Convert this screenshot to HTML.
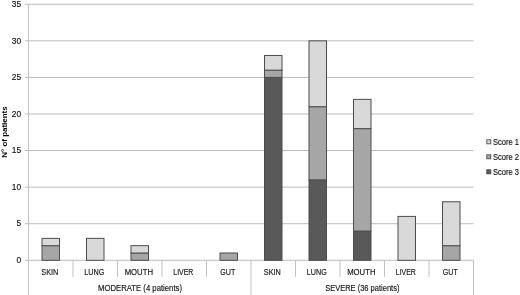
<!DOCTYPE html>
<html><head><meta charset="utf-8"><style>
html,body{margin:0;padding:0;background:#fff;width:520px;height:295px;overflow:hidden;position:relative;font-family:"Liberation Sans",sans-serif;}
</style></head><body>
<svg width="520" height="295" viewBox="0 0 520 295" style="position:absolute;left:0;top:0;filter:grayscale(1)">
<line x1="25" y1="260.3" x2="473.5" y2="260.3" stroke="#bcbcbc" stroke-width="1"/>
<line x1="25" y1="223.73" x2="473.5" y2="223.73" stroke="#bcbcbc" stroke-width="1"/>
<line x1="25" y1="187.15" x2="473.5" y2="187.15" stroke="#bcbcbc" stroke-width="1"/>
<line x1="25" y1="150.57" x2="473.5" y2="150.57" stroke="#bcbcbc" stroke-width="1"/>
<line x1="25" y1="114.0" x2="473.5" y2="114.0" stroke="#bcbcbc" stroke-width="1"/>
<line x1="25" y1="77.43" x2="473.5" y2="77.43" stroke="#bcbcbc" stroke-width="1"/>
<line x1="25" y1="40.85" x2="473.5" y2="40.85" stroke="#bcbcbc" stroke-width="1"/>
<line x1="25" y1="4.27" x2="473.5" y2="4.27" stroke="#bcbcbc" stroke-width="1"/>
<line x1="28.5" y1="4" x2="28.5" y2="295" stroke="#c2c2c2" stroke-width="1"/>
<line x1="73.0" y1="260" x2="73.0" y2="277" stroke="#c2c2c2" stroke-width="1"/>
<line x1="117.5" y1="260" x2="117.5" y2="277" stroke="#c2c2c2" stroke-width="1"/>
<line x1="162.0" y1="260" x2="162.0" y2="277" stroke="#c2c2c2" stroke-width="1"/>
<line x1="206.5" y1="260" x2="206.5" y2="277" stroke="#c2c2c2" stroke-width="1"/>
<line x1="251.0" y1="260" x2="251.0" y2="295" stroke="#c2c2c2" stroke-width="1"/>
<line x1="295.5" y1="260" x2="295.5" y2="277" stroke="#c2c2c2" stroke-width="1"/>
<line x1="340.0" y1="260" x2="340.0" y2="277" stroke="#c2c2c2" stroke-width="1"/>
<line x1="384.5" y1="260" x2="384.5" y2="277" stroke="#c2c2c2" stroke-width="1"/>
<line x1="429.0" y1="260" x2="429.0" y2="277" stroke="#c2c2c2" stroke-width="1"/>
<line x1="473.5" y1="260" x2="473.5" y2="295" stroke="#c2c2c2" stroke-width="1"/>
<rect x="42.00" y="245.67" width="17.5" height="14.63" fill="#a6a6a6" stroke="#4d4d4d" stroke-width="1"/>
<rect x="42.00" y="238.36" width="17.5" height="7.31" fill="#d9d9d9" stroke="#4d4d4d" stroke-width="1"/>
<rect x="86.50" y="238.36" width="17.5" height="21.94" fill="#d9d9d9" stroke="#4d4d4d" stroke-width="1"/>
<rect x="131.00" y="252.99" width="17.5" height="7.31" fill="#a6a6a6" stroke="#4d4d4d" stroke-width="1"/>
<rect x="131.00" y="245.67" width="17.5" height="7.31" fill="#d9d9d9" stroke="#4d4d4d" stroke-width="1"/>
<rect x="220.00" y="252.99" width="17.5" height="7.31" fill="#a6a6a6" stroke="#4d4d4d" stroke-width="1"/>
<rect x="264.50" y="77.43" width="17.5" height="182.88" fill="#595959" stroke="#4d4d4d" stroke-width="1"/>
<rect x="264.50" y="70.11" width="17.5" height="7.31" fill="#a6a6a6" stroke="#4d4d4d" stroke-width="1"/>
<rect x="264.50" y="55.48" width="17.5" height="14.63" fill="#d9d9d9" stroke="#4d4d4d" stroke-width="1"/>
<rect x="309.00" y="179.84" width="17.5" height="80.47" fill="#595959" stroke="#4d4d4d" stroke-width="1"/>
<rect x="309.00" y="106.69" width="17.5" height="73.15" fill="#a6a6a6" stroke="#4d4d4d" stroke-width="1"/>
<rect x="309.00" y="40.85" width="17.5" height="65.84" fill="#d9d9d9" stroke="#4d4d4d" stroke-width="1"/>
<rect x="353.50" y="231.04" width="17.5" height="29.26" fill="#595959" stroke="#4d4d4d" stroke-width="1"/>
<rect x="353.50" y="128.63" width="17.5" height="102.41" fill="#a6a6a6" stroke="#4d4d4d" stroke-width="1"/>
<rect x="353.50" y="99.37" width="17.5" height="29.26" fill="#d9d9d9" stroke="#4d4d4d" stroke-width="1"/>
<rect x="398.00" y="216.41" width="17.5" height="43.89" fill="#d9d9d9" stroke="#4d4d4d" stroke-width="1"/>
<rect x="442.50" y="245.67" width="17.5" height="14.63" fill="#a6a6a6" stroke="#4d4d4d" stroke-width="1"/>
<rect x="442.50" y="201.78" width="17.5" height="43.89" fill="#d9d9d9" stroke="#4d4d4d" stroke-width="1"/>
<text x="21.2" y="263.00" text-anchor="end" font-size="8.4" fill="#141414" stroke="#141414" stroke-width="0.15" font-family="Liberation Sans, sans-serif">0</text>
<text x="21.2" y="226.43" text-anchor="end" font-size="8.4" fill="#141414" stroke="#141414" stroke-width="0.15" font-family="Liberation Sans, sans-serif">5</text>
<text x="21.2" y="189.85" text-anchor="end" font-size="8.4" fill="#141414" stroke="#141414" stroke-width="0.15" font-family="Liberation Sans, sans-serif">10</text>
<text x="21.2" y="153.27" text-anchor="end" font-size="8.4" fill="#141414" stroke="#141414" stroke-width="0.15" font-family="Liberation Sans, sans-serif">15</text>
<text x="21.2" y="116.70" text-anchor="end" font-size="8.4" fill="#141414" stroke="#141414" stroke-width="0.15" font-family="Liberation Sans, sans-serif">20</text>
<text x="21.2" y="80.13" text-anchor="end" font-size="8.4" fill="#141414" stroke="#141414" stroke-width="0.15" font-family="Liberation Sans, sans-serif">25</text>
<text x="21.2" y="43.55" text-anchor="end" font-size="8.4" fill="#141414" stroke="#141414" stroke-width="0.15" font-family="Liberation Sans, sans-serif">30</text>
<text x="21.2" y="6.97" text-anchor="end" font-size="8.4" fill="#141414" stroke="#141414" stroke-width="0.15" font-family="Liberation Sans, sans-serif">35</text>
<text x="49.85" y="274.6" text-anchor="middle" font-size="8.4" fill="#141414" stroke="#141414" stroke-width="0.15" textLength="17.0" lengthAdjust="spacingAndGlyphs" font-family="Liberation Sans, sans-serif">SKIN</text>
<text x="94.35" y="274.6" text-anchor="middle" font-size="8.4" fill="#141414" stroke="#141414" stroke-width="0.15" textLength="20.0" lengthAdjust="spacingAndGlyphs" font-family="Liberation Sans, sans-serif">LUNG</text>
<text x="138.85" y="274.6" text-anchor="middle" font-size="8.4" fill="#141414" stroke="#141414" stroke-width="0.15" textLength="28.3" lengthAdjust="spacingAndGlyphs" font-family="Liberation Sans, sans-serif">MOUTH</text>
<text x="183.35" y="274.6" text-anchor="middle" font-size="8.4" fill="#141414" stroke="#141414" stroke-width="0.15" textLength="20.0" lengthAdjust="spacingAndGlyphs" font-family="Liberation Sans, sans-serif">LIVER</text>
<text x="227.85" y="274.6" text-anchor="middle" font-size="8.4" fill="#141414" stroke="#141414" stroke-width="0.15" textLength="15.0" lengthAdjust="spacingAndGlyphs" font-family="Liberation Sans, sans-serif">GUT</text>
<text x="272.35" y="274.6" text-anchor="middle" font-size="8.4" fill="#141414" stroke="#141414" stroke-width="0.15" textLength="17.0" lengthAdjust="spacingAndGlyphs" font-family="Liberation Sans, sans-serif">SKIN</text>
<text x="316.85" y="274.6" text-anchor="middle" font-size="8.4" fill="#141414" stroke="#141414" stroke-width="0.15" textLength="20.0" lengthAdjust="spacingAndGlyphs" font-family="Liberation Sans, sans-serif">LUNG</text>
<text x="361.35" y="274.6" text-anchor="middle" font-size="8.4" fill="#141414" stroke="#141414" stroke-width="0.15" textLength="28.3" lengthAdjust="spacingAndGlyphs" font-family="Liberation Sans, sans-serif">MOUTH</text>
<text x="405.85" y="274.6" text-anchor="middle" font-size="8.4" fill="#141414" stroke="#141414" stroke-width="0.15" textLength="20.0" lengthAdjust="spacingAndGlyphs" font-family="Liberation Sans, sans-serif">LIVER</text>
<text x="450.35" y="274.6" text-anchor="middle" font-size="8.4" fill="#141414" stroke="#141414" stroke-width="0.15" textLength="15.0" lengthAdjust="spacingAndGlyphs" font-family="Liberation Sans, sans-serif">GUT</text>
<text x="140" y="291.1" text-anchor="middle" font-size="8.4" fill="#141414" stroke="#141414" stroke-width="0.15" textLength="84" lengthAdjust="spacingAndGlyphs" font-family="Liberation Sans, sans-serif">MODERATE (4 patients)</text>
<text x="362.3" y="291.1" text-anchor="middle" font-size="8.4" fill="#141414" stroke="#141414" stroke-width="0.15" textLength="74.2" lengthAdjust="spacingAndGlyphs" font-family="Liberation Sans, sans-serif">SEVERE (36 patients)</text>
<rect x="486.8" y="139.80" width="4.0" height="4.0" fill="#d9d9d9" stroke="#4d4d4d" stroke-width="0.9"/>
<text x="492.9" y="144.70" font-size="8.2" fill="#141414" stroke="#141414" stroke-width="0.15" textLength="26.1" lengthAdjust="spacingAndGlyphs" font-family="Liberation Sans, sans-serif">Score 1</text>
<rect x="486.8" y="154.80" width="4.0" height="4.0" fill="#a6a6a6" stroke="#4d4d4d" stroke-width="0.9"/>
<text x="492.9" y="159.70" font-size="8.2" fill="#141414" stroke="#141414" stroke-width="0.15" textLength="26.1" lengthAdjust="spacingAndGlyphs" font-family="Liberation Sans, sans-serif">Score 2</text>
<rect x="486.8" y="169.80" width="4.0" height="4.0" fill="#595959" stroke="#4d4d4d" stroke-width="0.9"/>
<text x="492.9" y="174.70" font-size="8.2" fill="#141414" stroke="#141414" stroke-width="0.15" textLength="26.1" lengthAdjust="spacingAndGlyphs" font-family="Liberation Sans, sans-serif">Score 3</text>
<text transform="translate(7.1,132.0) rotate(-90)" text-anchor="middle" font-size="7.7" font-weight="bold" fill="#000" textLength="51.4" lengthAdjust="spacingAndGlyphs" font-family="Liberation Sans, sans-serif">N° of patients</text>
</svg>
</body></html>
